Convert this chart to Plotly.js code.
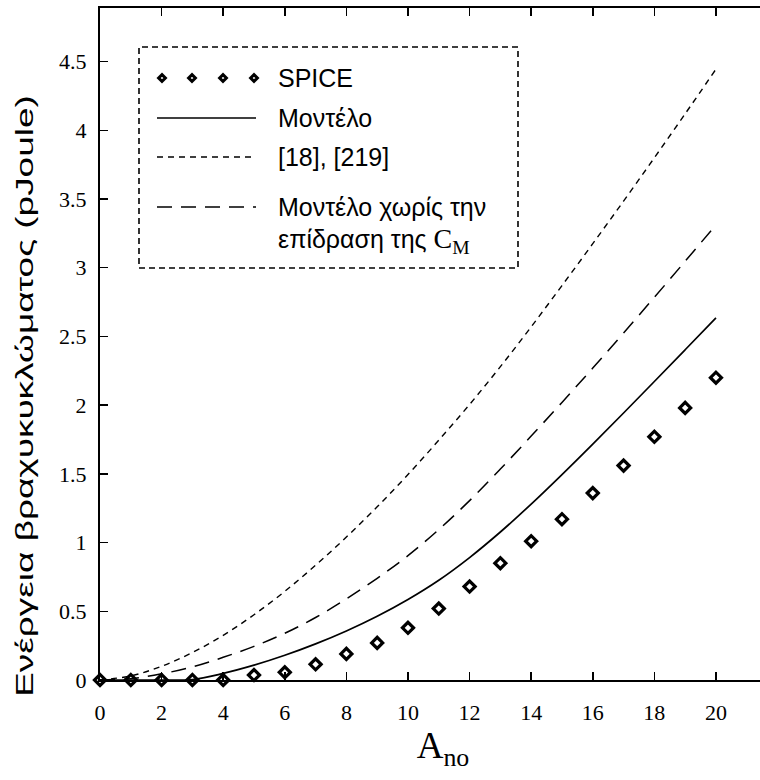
<!DOCTYPE html>
<html>
<head>
<meta charset="utf-8">
<script src="https://cdn.plot.ly/plotly-3.0.1.min.js"></script>
<style>
html,body{margin:0;padding:0;background:#fff;}
#chart .xtick text, #chart .ytick text { font-family: 'Liberation Serif', 'Times New Roman', serif !important; }
</style>
</head>
<body>
<div id="chart" style="width:760px;height:780px;"></div>
<script>
// ---------- data ----------
const xValues = [0,1,2,3,4,5,6,7,8,9,10,11,12,13,14,15,16,17,18,19,20];
const spiceValues = [0,0,0,0,0,0.036,0.056,0.114,0.19,0.27,0.38,0.52,0.68,0.85,1.01,1.17,1.36,1.56,1.77,1.98,2.20];
const modelValues = [0,0,0,0.003,0.048,0.108,0.18,0.263,0.357,0.464,0.586,0.726,0.891,1.077,1.28,1.495,1.717,1.943,2.172,2.403,2.635];
const refValues = [0,0.03,0.10,0.20,0.325,0.475,0.645,0.835,1.04,1.26,1.495,1.745,2.005,2.28,2.57,2.87,3.175,3.485,3.80,4.12,4.445];
const modelNoCmValues = [0,0.01,0.045,0.095,0.165,0.245,0.34,0.455,0.59,0.74,0.905,1.095,1.305,1.535,1.775,2.02,2.27,2.525,2.785,3.047,3.312];
const seriesNames = ['SPICE','Μοντέλο','[18], [219]','Μοντέλο χωρίς την<br>επίδραση της C<sub>M</sub>'];
const legendLines = ['SPICE','Μοντέλο','[18], [219]','Μοντέλο χωρίς την','επίδραση της <span style="font-family:Liberation Serif;font-size:28px">C<sub>M</sub></span>'];
const xTickVals = [0,2,4,6,8,10,12,14,16,18,20];
const yTickVals = [0,0.5,1,1.5,2,2.5,3,3.5,4,4.5];
const yTickText = ['0','0.5','1','1.5','2','2.5','3','3.5','4','4.5'];
const xAxisTitle = 'A<sub>no</sub>';
const yAxisTitle = 'Ενέργεια βραχυκυκλώματος (pJoule)';

// ---------- geometry helpers (pixel -> paper) ----------
const M = {l:100, r:0, t:8, b:100};
const W = 760, H = 780;
const PW = W - M.l - M.r, PH = H - M.t - M.b;
const px = x => (x - M.l) / PW;
const py = y => (H - M.b - y) / PH;

const SANS = 'Liberation Sans';
const SERIF = 'Liberation Serif';
const SHORT_DASH = '6px,5px';
const LONG_DASH = '15px,9px';

const traces = [
  {x:xValues, y:refValues, name:seriesNames[2], mode:'lines',
   line:{color:'#000', width:1.4, dash:SHORT_DASH, shape:'spline', smoothing:1}},
  {x:xValues, y:modelNoCmValues, name:seriesNames[3], mode:'lines',
   line:{color:'#000', width:1.5, dash:LONG_DASH, shape:'spline', smoothing:1}},
  {x:xValues, y:modelValues, name:seriesNames[1], mode:'lines',
   line:{color:'#000', width:1.7, shape:'spline', smoothing:1}},
  {x:xValues, y:spiceValues, name:seriesNames[0], mode:'markers', cliponaxis:false,
   marker:{symbol:'diamond-open', size:8.5, color:'#000', line:{color:'#000', width:3.2}}}
];

// ---------- custom legend ----------
const shapes = [
  {type:'rect', xref:'paper', yref:'paper', x0:px(139), x1:px(518), y0:py(268), y1:py(47),
   line:{color:'#000', width:1.6, dash:'6px,4px'}, fillcolor:'rgba(0,0,0,0)'},
  {type:'line', xref:'paper', yref:'paper', x0:px(157), x1:px(256), y0:py(118), y1:py(118),
   line:{color:'#000', width:1.5}},
  {type:'line', xref:'paper', yref:'paper', x0:px(157), x1:px(256), y0:py(157), y1:py(157),
   line:{color:'#000', width:1.5, dash:SHORT_DASH}},
  {type:'line', xref:'paper', yref:'paper', x0:px(157), x1:px(256), y0:py(207), y1:py(207),
   line:{color:'#000', width:1.5, dash:LONG_DASH}}
];
[162,192,223,254].forEach(cx => {
  shapes.push({type:'path', xref:'paper', yref:'paper', xsizemode:'pixel', ysizemode:'pixel',
    xanchor:px(cx), yanchor:py(78), path:'M -3.4 0 L 0 3.4 L 3.4 0 L 0 -3.4 Z',
    line:{color:'#000', width:3}, fillcolor:'rgba(0,0,0,0)'});
});
const legendRowsY = [78,118,157,207,240];
const annotations = legendLines.map((t,i) => ({
  text:t, xref:'paper', yref:'paper', x:px(276), y:py(legendRowsY[i]),
  xanchor:'left', yanchor:'middle', showarrow:false,
  font:{family:SANS, size:25, color:'#000'}
}));

const layout = {
  width:W, height:H, margin:M,
  font:{family:SERIF, color:'#000'},
  paper_bgcolor:'#fff', plot_bgcolor:'#fff',
  showlegend:false,
  xaxis:{range:[0,21.43], tickvals:xTickVals, ticks:'inside', ticklen:8, tickwidth:1.5, tickcolor:'#000',
    showline:true, linewidth:2, linecolor:'#000', mirror:'ticks', showgrid:false, zeroline:false,
    tickfont:{family:SERIF, size:22, color:'#000'}, ticklabelstandoff:12,
    title:{text:xAxisTitle, font:{family:SERIF, size:37, color:'#000'}, standoff:8}},
  yaxis:{range:[0,4.89], tickvals:yTickVals, ticktext:yTickText, ticks:'inside', ticklen:8, tickwidth:1.5, tickcolor:'#000',
    showline:true, linewidth:2, linecolor:'#000', mirror:false, showgrid:false, zeroline:false,
    tickfont:{family:SERIF, size:22, color:'#000'}, ticklabelstandoff:7,
    title:{text:yAxisTitle, font:{family:SANS, size:24, color:'#000'}, standoff:10}},
  shapes:shapes, annotations:annotations
};

Plotly.newPlot('chart', traces, layout, {staticPlot:true, displayModeBar:false}).then(gd => {
  // stretch the rotated y title along its length, as in the reference
  const t = gd.querySelector('.ytitle');
  if (t) {
    const bb = t.getBBox();
    const cx = bb.x + bb.width/2, cy = bb.y + bb.height/2;
    const s = 602 / bb.width;
    t.setAttribute('transform', `translate(25,396) rotate(-90) scale(${s},1) translate(${-cx},${-cy})`);
  }
  const xt = gd.querySelector('.xtitle');
  if (xt) {
    const prev = xt.getAttribute('transform') || '';
    xt.setAttribute('transform', 'translate(13,0) ' + prev);
  }
});
</script>
</body>
</html>
